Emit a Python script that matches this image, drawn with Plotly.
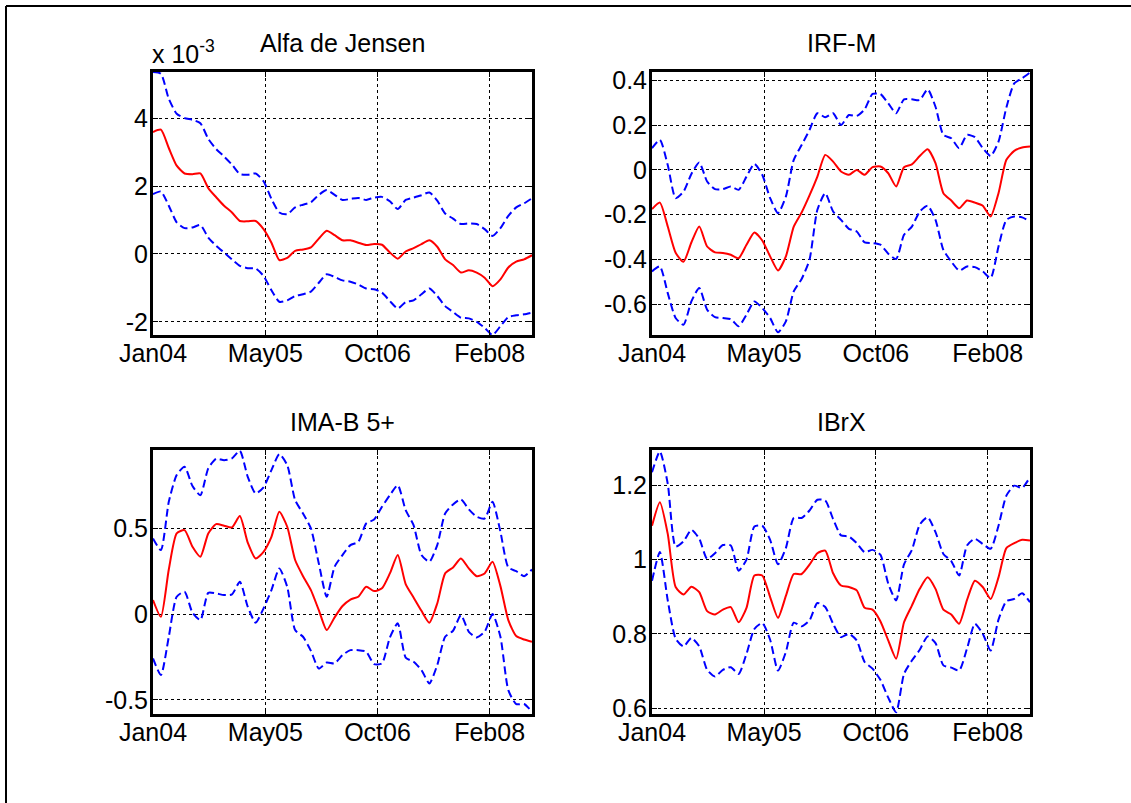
import pandas as pd
import plotly.graph_objects as go

# ---------------- data ----------------
dates = pd.date_range("2004-01-01", periods=49, freq="35D")

tick_dates = ["2004-01-01", "2005-05-13", "2006-09-22", "2008-02-01"]
tick_labels = ["Jan04", "May05", "Oct06", "Feb08"]

titles = ["Alfa de Jensen", "IRF-M", "IMA-B 5+", "IBrX"]

# Alfa de Jensen (in units of 1e-3)
alfa_mid = [3.59, 3.66, 3.12, 2.60, 2.37, 2.35, 2.37, 1.94, 1.67, 1.42, 1.22, 0.97, 0.96,
            0.97, 0.73, 0.33, -0.18, -0.12, 0.09, 0.13, 0.19, 0.45, 0.68, 0.55, 0.40, 0.40,
            0.33, 0.26, 0.29, 0.27, 0.04, -0.14, 0.07, 0.17, 0.29, 0.40, 0.21, -0.16, -0.33,
            -0.55, -0.48, -0.55, -0.70, -0.95, -0.75, -0.40, -0.23, -0.16, -0.04]
alfa_up = [5.36, 5.31, 4.57, 4.13, 4.00, 3.95, 3.85, 3.39, 3.09, 2.87, 2.63, 2.35, 2.33,
           2.37, 2.14, 1.62, 1.22, 1.17, 1.37, 1.45, 1.52, 1.74, 1.88, 1.74, 1.59, 1.62,
           1.65, 1.59, 1.66, 1.68, 1.55, 1.32, 1.59, 1.66, 1.73, 1.81, 1.57, 1.19, 1.04,
           0.88, 0.90, 0.88, 0.73, 0.53, 0.76, 1.12, 1.37, 1.49, 1.64]
alfa_lo = [1.76, 1.84, 1.42, 0.93, 0.76, 0.78, 0.85, 0.48, 0.24, 0.04, -0.16, -0.35, -0.42,
           -0.43, -0.65, -1.07, -1.41, -1.37, -1.24, -1.19, -1.11, -0.85, -0.60, -0.68, -0.78,
           -0.82, -0.90, -1.02, -1.04, -1.14, -1.39, -1.61, -1.42, -1.37, -1.19, -1.02, -1.24,
           -1.54, -1.71, -1.88, -1.90, -2.00, -2.18, -2.39, -2.13, -1.86, -1.81, -1.78, -1.73]

# IRF-M
irf_mid = [-0.175, -0.146, -0.253, -0.370, -0.410, -0.324, -0.253, -0.342, -0.368, -0.371,
           -0.379, -0.394, -0.334, -0.279, -0.315, -0.386, -0.449, -0.386, -0.253, -0.190,
           -0.114, -0.030, 0.067, 0.037, -0.007, -0.022, 0.000, -0.022, 0.012, 0.015, -0.015,
           -0.074, 0.012, 0.025, 0.062, 0.092, 0.030, -0.104, -0.137, -0.171, -0.137, -0.146,
           -0.160, -0.208, -0.104, 0.045, 0.085, 0.100, 0.104]
irf_up = [0.097, 0.134, 0.022, -0.126, -0.097, -0.018, 0.033, -0.052, -0.086, -0.086,
          -0.074, -0.089, -0.030, 0.027, -0.022, -0.126, -0.193, -0.119, 0.045, 0.111,
          0.178, 0.253, 0.235, 0.253, 0.200, 0.245, 0.241, 0.270, 0.339, 0.339, 0.297,
          0.253, 0.315, 0.315, 0.312, 0.360, 0.282, 0.156, 0.141, 0.097, 0.156, 0.146,
          0.097, 0.062, 0.126, 0.279, 0.386, 0.409, 0.435]
irf_lo = [-0.453, -0.431, -0.550, -0.661, -0.691, -0.587, -0.527, -0.624, -0.657, -0.661,
          -0.666, -0.698, -0.646, -0.587, -0.617, -0.661, -0.725, -0.676, -0.542, -0.487,
          -0.401, -0.178, -0.104, -0.186, -0.223, -0.263, -0.275, -0.324, -0.327, -0.334,
          -0.374, -0.398, -0.290, -0.253, -0.186, -0.160, -0.223, -0.357, -0.409, -0.449,
          -0.431, -0.434, -0.453, -0.483, -0.342, -0.223, -0.208, -0.212, -0.230]

# IMA-B 5+
imab_mid = [0.082, -0.016, 0.260, 0.470, 0.489, 0.392, 0.334, 0.470, 0.524, 0.515, 0.505,
            0.571, 0.416, 0.324, 0.363, 0.450, 0.596, 0.509, 0.315, 0.221, 0.140, 0.023,
            -0.093, -0.019, 0.047, 0.085, 0.101, 0.159, 0.134, 0.150, 0.237, 0.344, 0.175,
            0.097, 0.019, -0.050, 0.062, 0.237, 0.272, 0.324, 0.266, 0.221, 0.237, 0.305,
            0.163, -0.035, -0.128, -0.148, -0.161]
imab_up = [0.441, 0.373, 0.654, 0.810, 0.858, 0.746, 0.693, 0.849, 0.905, 0.897, 0.907,
           0.951, 0.800, 0.703, 0.738, 0.839, 0.932, 0.868, 0.664, 0.586, 0.499, 0.295,
           0.101, 0.276, 0.344, 0.402, 0.421, 0.528, 0.551, 0.625, 0.693, 0.751, 0.606,
           0.518, 0.344, 0.305, 0.402, 0.586, 0.639, 0.668, 0.610, 0.567, 0.557, 0.654,
           0.480, 0.272, 0.250, 0.221, 0.260]
imab_lo = [-0.258, -0.355, -0.132, 0.101, 0.130, 0.008, -0.035, 0.124, 0.120, 0.111, 0.115,
           0.188, 0.043, -0.050, 0.033, 0.140, 0.266, 0.159, -0.093, -0.132, -0.214, -0.317,
           -0.282, -0.287, -0.239, -0.210, -0.210, -0.219, -0.291, -0.287, -0.136, -0.054,
           -0.253, -0.278, -0.326, -0.404, -0.297, -0.132, -0.097, -0.006, -0.103, -0.136,
           -0.103, 0.000, -0.132, -0.443, -0.524, -0.524, -0.569]

# IBrX
ibrx_mid = [1.091, 1.154, 1.069, 0.926, 0.906, 0.927, 0.912, 0.861, 0.852, 0.865, 0.872,
            0.831, 0.870, 0.957, 0.957, 0.899, 0.843, 0.902, 0.961, 0.961, 0.986, 1.017,
            1.024, 0.963, 0.930, 0.926, 0.917, 0.870, 0.865, 0.834, 0.782, 0.733, 0.831,
            0.876, 0.921, 0.952, 0.921, 0.865, 0.852, 0.827, 0.891, 0.943, 0.926, 0.894,
            0.952, 1.031, 1.044, 1.053, 1.051]
ibrx_up = [1.235, 1.291, 1.204, 1.035, 1.049, 1.080, 1.056, 1.002, 1.017, 1.039, 1.038,
           0.970, 1.000, 1.089, 1.091, 1.053, 0.987, 1.031, 1.112, 1.112, 1.132, 1.161,
           1.159, 1.109, 1.065, 1.062, 1.044, 1.020, 1.026, 1.013, 0.935, 0.890, 0.987,
           1.026, 1.094, 1.114, 1.074, 1.015, 0.996, 0.957, 1.038, 1.056, 1.042, 1.029,
           1.091, 1.172, 1.199, 1.193, 1.222]
ibrx_lo = [0.943, 1.020, 0.890, 0.787, 0.766, 0.789, 0.766, 0.703, 0.685, 0.703, 0.710,
           0.692, 0.746, 0.813, 0.829, 0.784, 0.701, 0.751, 0.830, 0.820, 0.836, 0.883,
           0.872, 0.827, 0.791, 0.800, 0.782, 0.724, 0.706, 0.676, 0.628, 0.589, 0.692,
           0.728, 0.757, 0.793, 0.775, 0.715, 0.709, 0.701, 0.760, 0.827, 0.800, 0.755,
           0.838, 0.888, 0.894, 0.909, 0.885]

alfa_scale = 1e-3
series = [
    ([v * alfa_scale for v in alfa_mid], [v * alfa_scale for v in alfa_up], [v * alfa_scale for v in alfa_lo]),
    (irf_mid, irf_up, irf_lo),
    (imab_mid, imab_up, imab_lo),
    (ibrx_mid, ibrx_up, ibrx_lo),
]

y_tickvals = [[-0.002, 0.0, 0.002, 0.004],
              [-0.6, -0.4, -0.2, 0.0, 0.2, 0.4],
              [-0.5, 0.0, 0.5],
              [0.6, 0.8, 1.0, 1.2]]
y_ticktext = [["-2", "0", "2", "4"],
              ["-0.6", "-0.4", "-0.2", "0", "0.2", "0.4"],
              ["-0.5", "0", "0.5"],
              ["0.6", "0.8", "1", "1.2"]]

# ---------------- layout constants ----------------
W, H = 1131, 803
y_ranges = [[-2.39e-3, 5.36e-3], [-0.737, 0.437], [-0.582, 0.956], [0.584, 1.295]]
x_doms = [[153 / W, 532 / W], [652 / W, 1030 / W]]
y_doms = [[1 - 335 / H, 1 - 72 / H], [1 - 714 / H, 1 - 450 / H]]
FONT = "Liberation Sans, Arial, sans-serif"
FS = 25

fig = go.Figure()
layout = dict(
    template="none",
    width=W, height=H, autosize=False,
    margin=dict(l=0, r=0, t=0, b=0, pad=0, autoexpand=False),
    paper_bgcolor="white", plot_bgcolor="white",
    showlegend=False,
    font=dict(family=FONT, size=FS, color="black"),
    annotations=[], shapes=[],
)

for i in range(4):
    r, c = divmod(i, 2)
    sfx = "" if i == 0 else str(i + 1)
    mid, up, lo = series[i]
    xa, ya = "x" + sfx, "y" + sfx
    for band in (up, lo):
        fig.add_trace(go.Scatter(x=dates, y=band, mode="lines", xaxis=xa, yaxis=ya,
                                 line=dict(color="#0000ff", width=2, dash="8px,4px",
                                           shape="spline", smoothing=0.6)))
    fig.add_trace(go.Scatter(x=dates, y=mid, mode="lines", xaxis=xa, yaxis=ya,
                             line=dict(color="#ff0000", width=2, shape="spline", smoothing=0.6)))
    common = dict(showline=True, linecolor="black", linewidth=3, mirror="allticks",
                  ticks="inside", ticklen=5, tickwidth=1, tickcolor="black",
                  showgrid=True, gridcolor="black", griddash="dot", gridwidth=1,
                  zeroline=False, automargin=False,
                  tickfont=dict(family=FONT, size=FS, color="black"))
    layout["xaxis" + sfx] = dict(common, domain=x_doms[c], anchor=ya,
                                 range=[dates[0], dates[-1]], ticklabelstandoff=-6,
                                 tickvals=pd.to_datetime(tick_dates), ticktext=tick_labels)
    layout["yaxis" + sfx] = dict(common, domain=y_doms[r], anchor=xa,
                                 range=y_ranges[i], ticklabelstandoff=-3,
                                 tickvals=y_tickvals[i], ticktext=y_ticktext[i])
    title_y = [1 - 43 / H, 1 - 422 / H][r]
    layout["annotations"].append(dict(
        text=titles[i], xref="paper", yref="paper",
        x=(x_doms[c][0] + x_doms[c][1]) / 2, y=title_y,
        xanchor="center", yanchor="middle", showarrow=False,
        font=dict(family=FONT, size=FS, color="black")))

layout["annotations"].append(dict(
    text="x 10<sup>-3</sup>", xref="paper", yref="paper",
    x=150 / W, y=1 - 70 / H, xanchor="left", yanchor="bottom", showarrow=False,
    font=dict(family=FONT, size=FS, color="black")))

# outer figure border (top and left edges visible)
layout["shapes"] = [
    dict(type="line", xref="paper", yref="paper", x0=6 / W, x1=1.02, y0=1 - 6 / H, y1=1 - 6 / H,
         line=dict(color="black", width=2)),
    dict(type="line", xref="paper", yref="paper", x0=6 / W, x1=6 / W, y0=-0.02, y1=1 - 6 / H,
         line=dict(color="black", width=2)),
]

fig.update_layout(**layout)
fig.write_html("out.html", config={"displayModeBar": False},
               post_script="document.body.style.margin='0';")
